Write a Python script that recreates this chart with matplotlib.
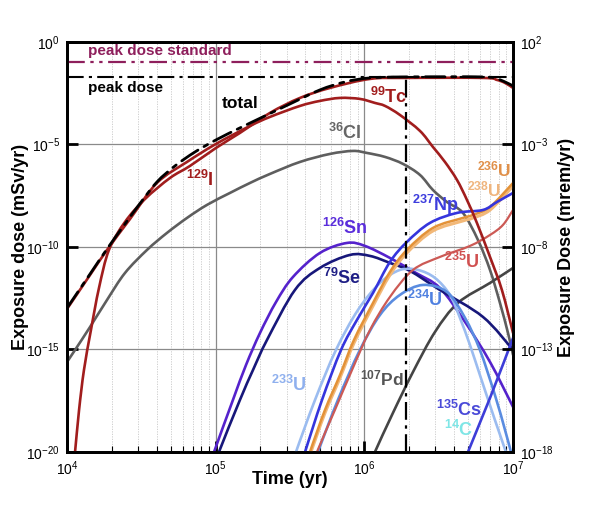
import numpy as np
import matplotlib
matplotlib.use('Agg')
import matplotlib.pyplot as plt
from matplotlib.path import Path
from matplotlib.patches import PathPatch
from matplotlib.ticker import FixedLocator, NullLocator, FuncFormatter, LogLocator, NullFormatter

plt.rcParams['font.family'] = ['Liberation Sans', 'DejaVu Sans']
plt.rcParams['mathtext.fontset'] = 'custom'
plt.rcParams['mathtext.rm'] = 'Liberation Sans'
plt.rcParams['mathtext.bf'] = 'Liberation Sans:bold'
plt.rcParams['mathtext.it'] = 'Liberation Sans:italic'

# ---------------- data (log10 of time [yr] and log10 of dose [mSv/yr]) ----------------
peak_dose_standard = 0.1      # mSv/yr
peak_dose = 0.0196            # mSv/yr
peak_time = 1.92e6            # yr

total_logt = [4.0, 4.155, 4.269, 4.390, 4.491, 4.605, 4.726, 4.861, 5.002, 5.163, 5.331, 5.500, 5.701, 5.870, 6.038, 6.280, 6.798, 6.892, 6.946, 7.0]
total_logd = [-12.976, -11.317, -10.098, -8.878, -7.878, -6.829, -6.049, -5.366, -4.780, -4.195, -3.610, -3.024, -2.341, -1.951, -1.756, -1.707, -1.707, -1.805, -1.951, -2.146]

tc99_logt = [4.0, 4.155, 4.269, 4.424, 4.605, 4.807, 5.002, 5.231, 5.365, 5.567, 5.701, 5.836, 5.970, 6.071, 6.139, 6.239, 6.374, 6.461, 6.542, 6.623, 6.690, 6.757, 6.845, 6.925, 7.0]
tc99_logd = [-13.024, -11.366, -10.146, -8.634, -6.878, -5.854, -4.976, -4.098, -3.659, -3.122, -2.878, -2.732, -2.780, -2.976, -3.122, -3.561, -4.341, -5.122, -5.854, -6.732, -7.707, -8.829, -10.488, -12.098, -14.195]

i129_logt = [4.040, 4.054, 4.081, 4.114, 4.161, 4.215, 4.282, 4.390, 4.525, 4.693, 4.827, 5.002, 5.163, 5.365, 5.567, 5.769, 6.038, 6.280, 6.798, 6.892, 6.946, 7.0]
i129_logd = [-20.88, -20.0, -17.951, -16.0, -14.049, -12.0, -10.146, -8.780, -7.659, -6.634, -6.049, -5.171, -4.439, -3.463, -2.732, -2.244, -1.805, -1.756, -1.756, -1.854, -2.0, -2.244]

cl36_logt = [4.0, 4.054, 4.155, 4.269, 4.390, 4.538, 4.672, 4.807, 4.941, 5.096, 5.231, 5.365, 5.567, 5.769, 5.923, 6.017, 6.139, 6.260, 6.374, 6.461, 6.555, 6.663, 6.764, 6.845, 6.912, 6.966, 7.0]
cl36_logd = [-15.610, -15.024, -13.902, -12.585, -11.268, -10.146, -9.317, -8.585, -7.951, -7.366, -6.878, -6.439, -5.854, -5.463, -5.317, -5.415, -5.610, -5.951, -6.488, -7.220, -7.805, -8.341, -9.659, -11.122, -12.732, -14.195, -15.268]

pd107_logt = [6.051, 6.071, 6.192, 6.327, 6.475, 6.629, 6.845, 7.0]
pd107_logd = [-20.390, -20.0, -18.098, -16.098, -14.146, -12.732, -11.756, -11.024]

sn126_logt = [4.975, 4.989, 5.116, 5.204, 5.298, 5.406, 5.520, 5.701, 5.883, 6.004, 6.172, 6.347, 6.508, 6.677, 6.845, 7.0]
sn126_logd = [-20.390, -20.0, -17.463, -15.756, -14.195, -12.683, -11.463, -10.293, -9.805, -9.951, -10.537, -11.268, -12.0, -13.659, -15.610, -17.805]

se79_logt = [5.009, 5.022, 5.163, 5.251, 5.345, 5.533, 5.701, 5.903, 6.038, 6.172, 6.307, 6.508, 6.798, 7.0]
se79_logd = [-20.390, -20.0, -17.463, -16.0, -14.537, -12.098, -11.024, -10.390, -10.439, -10.780, -11.171, -12.098, -13.415, -15.024]

np237_logt = [5.587, 5.601, 5.715, 5.843, 5.950, 6.058, 6.172, 6.286, 6.441, 6.623, 6.798, 6.892, 7.0]
np237_logd = [-20.390, -20.0, -17.463, -15.024, -13.561, -12.244, -10.732, -9.756, -8.829, -8.341, -8.195, -7.805, -7.366]

u236_logt = [5.621, 5.634, 5.735, 5.836, 5.930, 6.058, 6.172, 6.286, 6.461, 6.663, 6.730, 6.845, 7.0]
u236_logd = [-20.390, -20.0, -17.951, -16.244, -14.537, -12.732, -11.220, -10.146, -9.073, -8.585, -8.439, -8.049, -6.878]

u238_logt = [5.621, 5.634, 5.735, 5.836, 5.930, 6.058, 6.172, 6.286, 6.461, 6.663, 6.730, 6.845, 7.0]
u238_logd = [-20.54, -20.15, -18.10, -16.39, -14.69, -12.88, -11.37, -10.29, -9.22, -8.73, -8.59, -8.20, -7.03]

u235_logt = [5.668, 5.681, 5.802, 5.917, 6.038, 6.172, 6.327, 6.508, 6.710, 6.845, 6.932, 7.0]
u235_logd = [-20.390, -20.0, -17.951, -16.0, -14.049, -12.439, -11.122, -10.488, -9.951, -9.415, -8.927, -8.195]

u233_logt = [5.527, 5.540, 5.668, 5.809, 5.957, 6.105, 6.239, 6.360, 6.475, 6.576, 6.643, 6.710, 6.777, 6.878, 6.952, 6.966]
u233_logd = [-20.390, -20.0, -17.463, -15.024, -13.073, -11.756, -11.122, -11.122, -11.512, -12.341, -13.463, -14.780, -16.244, -18.439, -20.0, -20.390]

u234_logt = [5.674, 5.688, 5.822, 5.970, 6.105, 6.239, 6.394, 6.555, 6.677, 6.777, 6.878, 6.946, 6.986, 7.0]
u234_logd = [-20.390, -20.0, -17.463, -15.024, -13.317, -12.341, -11.854, -12.195, -13.463, -15.024, -17.220, -18.927, -20.0, -20.390]

cs135_logt = [6.683, 6.697, 6.845, 7.0]
cs135_logd = [-20.390, -20.0, -17.366, -14.439]

# ---------------- figure ----------------
fig = plt.figure(figsize=(5.91, 5.05), dpi=100)
ax = fig.add_axes([0.1134, 0.105, 0.7547, 0.812])
ax.set_xscale('log')
ax.set_yscale('log')
ax.set_xlim(1e4, 1e7)
ax.set_ylim(1e-20, 1e0)

# grid
ax.xaxis.set_minor_locator(LogLocator(base=10, subs=np.arange(2, 10)))
ax.xaxis.set_minor_formatter(NullFormatter())
ax.yaxis.set_major_locator(FixedLocator([1e0, 1e-5, 1e-10, 1e-15, 1e-20]))
ax.yaxis.set_minor_locator(NullLocator())
ax.grid(which='major', color='#8a8a8a', lw=0.9)
ax.grid(which='minor', axis='x', color='#c8c8c8', lw=0.6, ls=(0, (1.5, 1.5)))
ax.set_axisbelow(True)

fmt = FuncFormatter(lambda v, p: r'$10^{%d}$' % int(round(np.log10(v))))
ax.xaxis.set_major_formatter(fmt)
ax.yaxis.set_major_formatter(fmt)
ax.tick_params(which='major', direction='in', length=8, width=2, labelsize=10, pad=5)
ax.tick_params(which='minor', direction='in', length=4, width=0.8)
ax.tick_params(axis='x', which='both', top=False)
for s in ax.spines.values():
    s.set_linewidth(2)


def curve(lt, ld, color, lw=1.9, ls='-', z=3):
    """Draw a smooth line through the read points (Catmull-Rom rendered as Bezier)."""
    x = np.asarray(lt, float)
    y = np.asarray(ld, float)
    pts = np.column_stack([x, y])
    n = len(pts)
    verts = [pts[0]]
    codes = [Path.MOVETO]
    for i in range(n - 1):
        p0 = pts[i - 1] if i > 0 else pts[i]
        p1 = pts[i]
        p2 = pts[i + 1]
        p3 = pts[i + 2] if i + 2 < n else pts[i + 1]
        verts += [p1 + (p2 - p0) / 6.0, p2 - (p3 - p1) / 6.0, p2]
        codes += [Path.CURVE4] * 3
    verts = np.power(10.0, np.array(verts))
    patch = PathPatch(Path(verts, codes), fill=False, edgecolor=color, lw=lw,
                      linestyle=ls, zorder=z, capstyle='round', joinstyle='round')
    ax.add_patch(patch)


curve(cl36_logt, cl36_logd, '#5e5e5e')
curve(pd107_logt, pd107_logd, '#454545')
curve(sn126_logt, sn126_logd, '#5522cc')
curve(se79_logt, se79_logd, '#17177a')
curve(u233_logt, u233_logd, '#9bbcf0')
curve(u234_logt, u234_logd, '#5a8ce0')
curve(u235_logt, u235_logd, '#cc5a55', lw=1.6)
curve(u238_logt, u238_logd, '#f2b878', lw=2.2)
curve(u236_logt, u236_logd, '#e39238', lw=1.8)
curve(np237_logt, np237_logd, '#3535dd')
curve(cs135_logt, cs135_logd, '#3d3dd8')
curve(tc99_logt, tc99_logd, '#a11d1d', z=4)
curve(i129_logt, i129_logd, '#a11d1d', z=4)
curve(total_logt, total_logd, 'black', lw=2.0, ls=(0, (7, 2.5, 1.5, 2.5)), z=5)

ax.axhline(peak_dose_standard, color='#8e1f5c', lw=1.6, ls=(0, (8, 2.5, 1.5, 2.5, 1.5, 2.5)), zorder=5)
ax.axhline(peak_dose, color='black', lw=1.5, ls=(0, (8, 2.5, 1.5, 2.5)), zorder=5)
ax.vlines(peak_time, 1e-20, peak_dose, color='black', lw=1.6, ls=(0, (8, 2.5, 1.5, 2.5)), zorder=5)


# text labels
def lab(lt, ld, mass, name, color, size=13, ha='center'):
    if mass:
        s = r'$^{\mathbf{%s}}$%s' % (mass, name)
    else:
        s = name
    ax.text(10 ** lt, 10 ** ld, s, color=color, fontsize=size, fontweight='bold',
            ha=ha, va='center', zorder=6)


lab(4.141, -0.439, None, 'peak dose standard', '#8e1f5c', size=11, ha='left')
lab(4.141, -2.244, None, 'peak dose', 'black', size=11, ha='left')
lab(5.163, -3.024, None, 'total', 'black', size=12.5)
lab(4.894, -6.732, '129', 'I', '#a11d1d')
lab(6.165, -2.683, '99', 'Tc', '#a11d1d')
lab(5.870, -4.439, '36', 'Cl', '#666666')
lab(5.870, -9.073, '126', 'Sn', '#5a2ddb')
lab(5.849, -11.512, '79', 'Se', '#1e1e85')
lab(6.481, -7.951, '237', 'Np', '#3d3ddd')
lab(6.871, -6.20, '236', 'U', '#e0904a', size=12.5)
lab(6.804, -7.20, '238', 'U', '#efb57e', size=12.5)
lab(6.656, -10.732, '235', 'U', '#d05050')
lab(6.408, -12.585, '234', 'U', '#4f80e0')
lab(5.493, -16.732, '233', 'U', '#8fb0ee')
lab(6.120, -16.390, '107', 'Pd', '#555555', size=12.5)
lab(6.636, -17.951, '135', 'Cs', '#4a4ad8')
lab(6.636, -18.927, '14', 'C', '#7fe6e6')

ax.set_xlabel('Time (yr)', fontsize=13, fontweight='bold', va='center')
ax.xaxis.set_label_coords(0.5, -0.068)
ax.set_ylabel('Exposure dose (mSv/yr)', fontsize=13, fontweight='bold', va='center')
ax.yaxis.set_label_coords(-0.105, 0.5)

# right axis in mrem/yr
ax2 = ax.twinx()
ax2.set_yscale('log')
ax2.set_ylim(1e-18, 1e2)
ax2.yaxis.set_major_locator(FixedLocator([1e2, 1e-3, 1e-8, 1e-13, 1e-18]))
ax2.yaxis.set_minor_locator(NullLocator())
ax2.yaxis.set_major_formatter(fmt)
ax2.tick_params(which='major', direction='in', length=8, width=2, labelsize=10, pad=5)
for s in ax2.spines.values():
    s.set_linewidth(2)
ax2.set_ylabel('Exposure Dose (mrem/yr)', fontsize=13, fontweight='bold', va='center')
ax2.yaxis.set_label_coords(1.12, 0.5)

fig.savefig('out.png', dpi=100)
